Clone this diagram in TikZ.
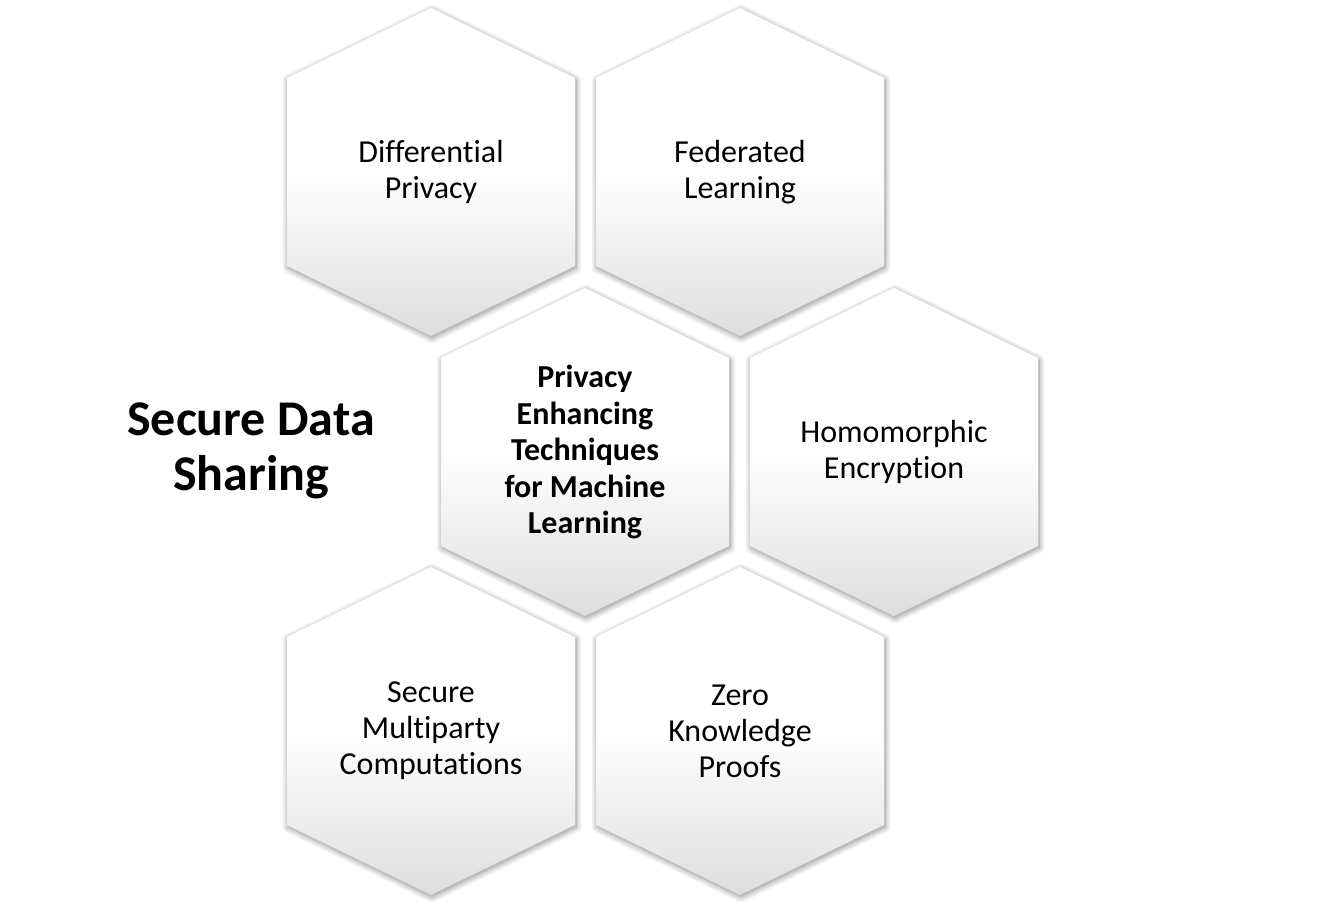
\documentclass[tikz,border=0pt]{standalone}
\usepackage{fontspec}
\setmainfont{Carlito}[Ligatures=NoCommon]
\usetikzlibrary{shadows.blur,calc}
\pgfdeclareverticalshading{hexshade}{100bp}{color(0bp)=(black!13); color(25bp)=(black!13); color(50bp)=(white); color(75bp)=(white); color(100bp)=(white)}
\tikzset{
  hexfill/.style={shading=hexshade, shading angle=0,
    blur shadow={shadow xshift=1pt, shadow yshift=-2pt, shadow blur radius=6pt, shadow blur steps=12, shadow opacity=45}},
  hextext/.style={align=center, text=black, font=\fontsize{32}{36}\selectfont},
  hexbold/.style={align=center, text=black, font=\fontsize{32}{36.5}\selectfont\bfseries},
  title/.style={align=center, text=black, font=\fontsize{50}{55}\selectfont\bfseries}
}
\newcommand{\hexat}[1]{%
  \path[hexfill] ($(#1)+(0,-164)$) -- ($(#1)+(144,-94)$) -- ($(#1)+(144,94)$) -- ($(#1)+(0,164)$) -- ($(#1)+(-144,94)$) -- ($(#1)+(-144,-94)$) -- cycle;}
\begin{document}
\begin{tikzpicture}[x=1pt,y=-1pt]
\useasboundingbox (0,0) rectangle (1334,909);
\coordinate (cDP) at (431,172);
\coordinate (cFL) at (740,172);
\coordinate (cPE) at (585,452);
\coordinate (cHE) at (894,452);
\coordinate (cSM) at (431,731);
\coordinate (cZK) at (740,731);
\hexat{cDP}
\hexat{cFL}
\hexat{cPE}
\hexat{cHE}
\hexat{cSM}
\hexat{cZK}
\node[hextext] (dp) at (cDP) {Differential\\Privacy};
\node[hextext] (fl) at (cFL) {Federated\\Learning};
\node[hexbold] (pe) at (cPE) {Privacy\\Enhancing\\Techniques\\for Machine\\Learning};
\node[hextext] (he) at (cHE) {Homomorphic\\Encryption};
\node[hextext] (sm) at (cSM) {Secure\\Multiparty\\Computations};
\node[hextext] (zk) at (cZK) {Zero\\Knowledge\\Proofs};
\node[title] (ttl) at (251,451) {Secure Data\\Sharing};
\end{tikzpicture}
\end{document}
